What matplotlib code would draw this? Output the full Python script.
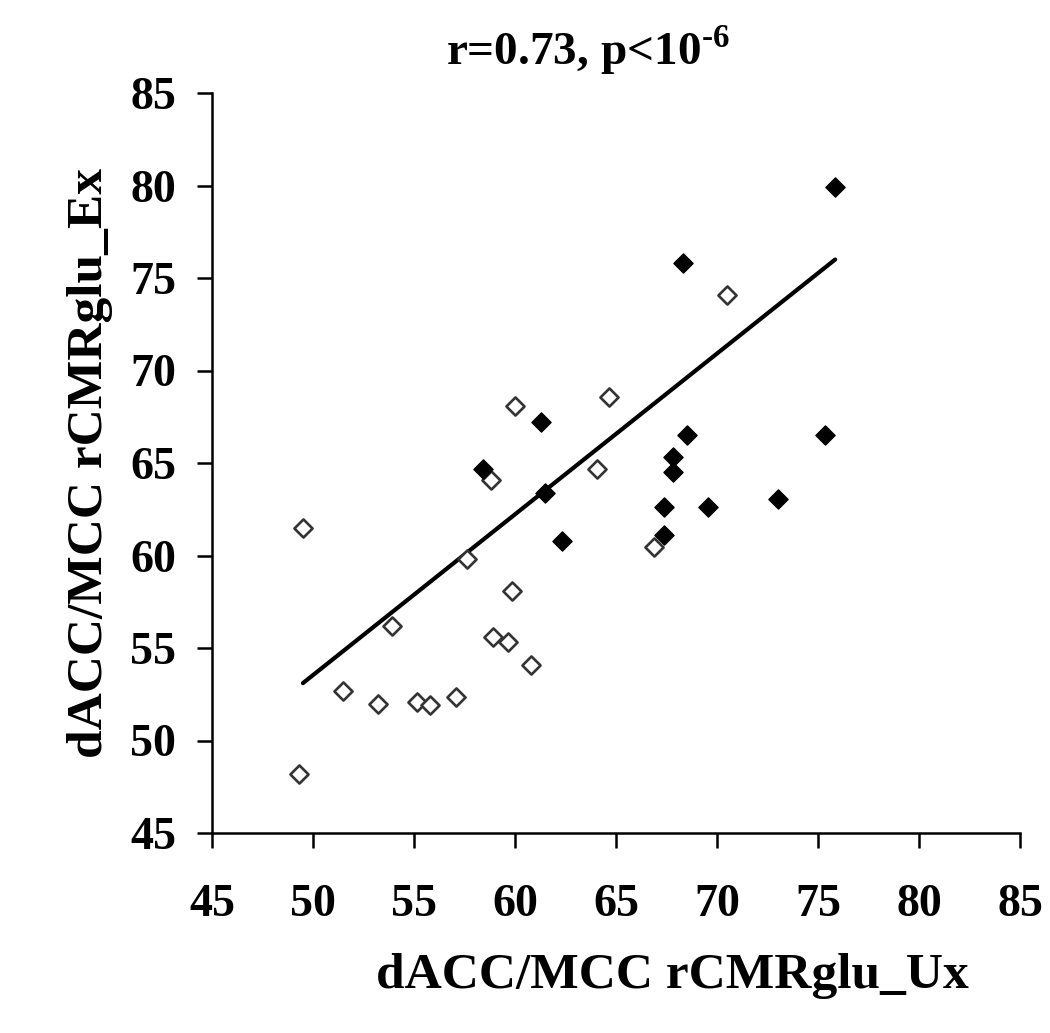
import numpy as np
import matplotlib
matplotlib.use('Agg')
import matplotlib.pyplot as plt

plt.rcParams['font.family'] = ['Liberation Serif', 'DejaVu Serif']
plt.rcParams['font.weight'] = 'bold'
plt.rcParams['mathtext.fontset'] = 'custom'
plt.rcParams['mathtext.rm'] = 'Liberation Serif:bold'
plt.rcParams['mathtext.bf'] = 'Liberation Serif:bold'

# open diamonds
x_open = [49.3, 49.5, 51.5, 53.2, 53.9, 55.15, 55.8, 57.1, 57.6, 58.8,
          58.9, 59.65, 59.85, 60.0, 60.8, 64.05, 64.65, 66.9, 70.5]
y_open = [48.2, 61.5, 52.7, 52.0, 56.2, 52.1, 51.9, 52.35, 59.8, 64.1,
          55.6, 55.3, 58.1, 68.1, 54.1, 64.7, 68.55, 60.45, 74.1]
# filled diamonds
x_fill = [58.4, 61.3, 61.5, 62.35, 67.4, 67.4, 67.8, 67.8, 68.3, 68.5,
          69.55, 73.0, 75.35, 75.85]
y_fill = [64.7, 67.2, 63.4, 60.8, 62.6, 61.1, 65.3, 64.5, 75.8, 66.5,
          62.6, 63.05, 66.5, 79.9]
# regression line ends
x_fit = [49.5, 75.85]
y_fit = [53.1, 76.0]

ticks = [45, 50, 55, 60, 65, 70, 75, 80, 85]

fig = plt.figure(figsize=(10.5, 10.33), dpi=100, facecolor='w')
ax = fig.add_axes([212/1050, 1 - 833/1033, 808/1050, 740/1033])

ax.plot(x_fit, y_fit, color='k', linewidth=3, solid_capstyle='round', zorder=2)
ax.scatter(x_open, y_open, marker='D', s=85, facecolor='white',
           edgecolor='#333333', linewidth=1.9, zorder=3)
ax.scatter(x_fill, y_fill, marker='D', s=95, facecolor='black',
           edgecolor='black', linewidth=1, zorder=4)

ax.set_xlim(45, 85)
ax.set_ylim(45, 85)
ax.set_xticks(ticks)
ax.set_yticks(ticks)
for s in ['top', 'right']:
    ax.spines[s].set_visible(False)
for s in ['left', 'bottom']:
    ax.spines[s].set_linewidth(1.8)
ax.tick_params(direction='out', length=11, width=1.8, labelsize=33)
ax.tick_params(axis='x', pad=26)
ax.tick_params(axis='y', pad=15)

ax.set_xlabel('dACC/MCC rCMRglu_Ux', fontsize=37, fontweight='bold')
ax.xaxis.label.set_va('center')
ax.xaxis.set_label_coords((672 - 212) / 808, (833 - 976) / 740)
ax.set_ylabel('dACC/MCC rCMRglu_Ex', fontsize=37, fontweight='bold')
ax.yaxis.label.set_va('center')
ax.yaxis.set_label_coords((90 - 212) / 808, 0.5)

fig.text(588/1050, 1 - 50/1033, r'r=0.73, p<10$^{\text{-6}}$',
         fontsize=34, fontweight='bold', ha='center', va='center')

fig.savefig('out.png', dpi=100, facecolor='w')
